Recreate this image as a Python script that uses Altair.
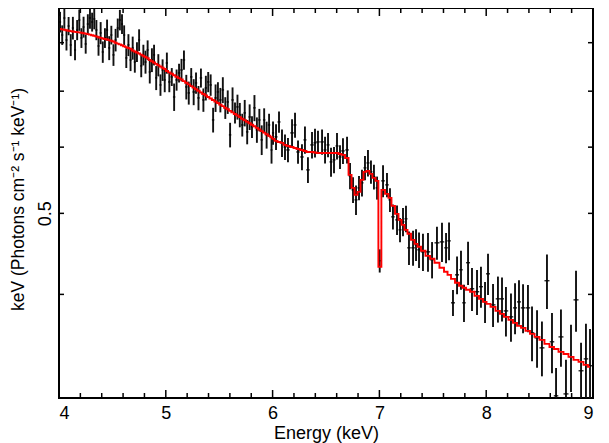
import altair as alt
import pandas as pd

# ---- data ----
# 4-5 keV
E_A = [4.01, 4.03, 4.05, 4.07, 4.09, 4.11, 4.13, 4.15, 4.17, 4.19,
       4.21, 4.23, 4.25, 4.27, 4.29, 4.31, 4.33, 4.35, 4.37, 4.39,
       4.41, 4.43, 4.45, 4.47, 4.49, 4.51, 4.53, 4.55, 4.57, 4.59,
       4.61, 4.63, 4.65, 4.67, 4.69, 4.71, 4.73, 4.75, 4.77, 4.79,
       4.81, 4.83, 4.85, 4.87, 4.89, 4.91, 4.93, 4.95, 4.97, 4.99]
F_A = [0.8469, 0.8171, 0.8563, 0.8060, 0.8376, 0.7950, 0.8330, 0.7841, 0.8285, 0.8516,
       0.8105, 0.8353, 0.7972, 0.8422, 0.8563, 0.8469, 0.8540, 0.8285, 0.7928, 0.8217,
       0.7798, 0.8105, 0.8285, 0.7885, 0.8171, 0.7735, 0.8060, 0.8330, 0.8516, 0.8422,
       0.8171, 0.7671, 0.7950, 0.7628, 0.7885, 0.7586, 0.7798, 0.8060, 0.7504, 0.7735,
       0.7586, 0.7841, 0.7380, 0.7628, 0.7735, 0.7261, 0.7521, 0.7121, 0.7421, 0.7220]
M_A = [0.8308, 0.8299, 0.8290, 0.8278, 0.8269, 0.8260, 0.8250, 0.8243, 0.8236, 0.8230,
       0.8221, 0.8212, 0.8203, 0.8191, 0.8180, 0.8166, 0.8155, 0.8141, 0.8121, 0.8107,
       0.8094, 0.8082, 0.8069, 0.8056, 0.8042, 0.8025, 0.7999, 0.7979, 0.7962, 0.7943,
       0.7923, 0.7904, 0.7885, 0.7866, 0.7830, 0.7809, 0.7787, 0.7766, 0.7742, 0.7717,
       0.7692, 0.7666, 0.7628, 0.7601, 0.7574, 0.7547, 0.7520, 0.7493, 0.7466, 0.7440]
S_A = [0.024, 0.022, 0.025, 0.023, 0.021, 0.024, 0.026, 0.022, 0.023, 0.025,
       0.022, 0.024, 0.021, 0.023, 0.025, 0.022, 0.024, 0.023, 0.021, 0.025,
       0.023, 0.022, 0.024, 0.026, 0.021, 0.023, 0.025, 0.022, 0.024, 0.023,
       0.022, 0.021, 0.024, 0.023, 0.025, 0.022, 0.021, 0.024, 0.023, 0.022,
       0.024, 0.021, 0.023, 0.025, 0.022, 0.024, 0.023, 0.021, 0.022, 0.024]

# 5-6 keV
E_B = [5.010, 5.033, 5.056, 5.078, 5.101, 5.124, 5.147, 5.170, 5.192, 5.215,
       5.238, 5.261, 5.283, 5.306, 5.329, 5.352, 5.375, 5.397, 5.420, 5.443,
       5.466, 5.488, 5.511, 5.534, 5.557, 5.580, 5.602, 5.625, 5.648, 5.671,
       5.693, 5.716, 5.739, 5.762, 5.785, 5.807, 5.830, 5.853, 5.876, 5.898,
       5.921, 5.944, 5.967, 5.990]
F_B = [0.7565, 0.7180, 0.7280, 0.6889, 0.7220, 0.7360, 0.7421, 0.7628, 0.7082, 0.6966,
       0.7280, 0.6985, 0.7160, 0.6871, 0.7260, 0.6833, 0.7063, 0.7180, 0.7121, 0.6467,
       0.6871, 0.6985, 0.6833, 0.7024, 0.6685, 0.6795, 0.6206, 0.6833, 0.6593, 0.6703,
       0.6557, 0.6378, 0.6593, 0.6257, 0.6520, 0.6345, 0.6685, 0.6292, 0.6467, 0.6121,
       0.6467, 0.6206, 0.6378, 0.5954]
M_B = [0.7401, 0.7372, 0.7343, 0.7315, 0.7284, 0.7256, 0.7228, 0.7196, 0.7164, 0.7132,
       0.7099, 0.7068, 0.7038, 0.7007, 0.6976, 0.6947, 0.6918, 0.6889, 0.6861, 0.6831,
       0.6803, 0.6775, 0.6746, 0.6718, 0.6689, 0.6659, 0.6630, 0.6603, 0.6574, 0.6547,
       0.6518, 0.6489, 0.6462, 0.6434, 0.6408, 0.6381, 0.6355, 0.6327, 0.6299, 0.6271,
       0.6245, 0.6218, 0.6192, 0.6165]
S_B = [0.022, 0.020, 0.018, 0.026, 0.021, 0.019, 0.023, 0.020, 0.024, 0.022,
       0.018, 0.025, 0.021, 0.023, 0.019, 0.022, 0.024, 0.020, 0.021, 0.022,
       0.026, 0.019, 0.023, 0.025, 0.020, 0.022, 0.021, 0.024, 0.019, 0.023,
       0.022, 0.020, 0.024, 0.021, 0.023, 0.019, 0.024, 0.022, 0.020, 0.025,
       0.021, 0.023, 0.020, 0.022]

# 6-7 keV (incl. narrow line bin at 7.0)
E_C = [6.004, 6.032, 6.060, 6.088, 6.116, 6.144, 6.182, 6.210, 6.238, 6.275,
       6.303, 6.331, 6.369, 6.397, 6.425, 6.463, 6.491, 6.519, 6.547, 6.575,
       6.603, 6.631, 6.659, 6.697, 6.725, 6.753, 6.781, 6.809, 6.837, 6.865,
       6.893, 6.921, 6.949, 6.978, 7.003]
F_C = [0.6240, 0.6172, 0.6431, 0.6071, 0.6003, 0.5954, 0.6240, 0.6378, 0.5921, 0.5840,
       0.6121, 0.5636, 0.6037, 0.6071, 0.6087, 0.6087, 0.5954, 0.6037, 0.5761, 0.5793,
       0.6020, 0.5840, 0.5938, 0.5954, 0.5544, 0.5334, 0.5189, 0.5363, 0.5438, 0.5667,
       0.5745, 0.5605, 0.5528, 0.5363, 0.4388]
M_C = [0.6138, 0.6104, 0.6087, 0.6071, 0.6037, 0.6020, 0.6003, 0.5987, 0.5970, 0.5954,
       0.5938, 0.5921, 0.5921, 0.5913, 0.5905, 0.5905, 0.5905, 0.5905, 0.5905, 0.5905,
       0.5905, 0.5889, 0.5873, 0.5824, 0.5559, 0.5363, 0.5261, 0.5305, 0.5483, 0.5605,
       0.5620, 0.5574, 0.5513, 0.5468, 0.4316]
S_C = [0.020, 0.022, 0.019, 0.023, 0.021, 0.020, 0.024, 0.022, 0.019, 0.021,
       0.023, 0.020, 0.022, 0.024, 0.019, 0.021, 0.022, 0.020, 0.023, 0.021,
       0.022, 0.019, 0.021, 0.022, 0.020, 0.019, 0.021, 0.018, 0.020, 0.019,
       0.021, 0.018, 0.019, 0.017, 0.014]

# 7-9 keV
E_D = [7.034, 7.071, 7.099, 7.127, 7.165, 7.193, 7.221, 7.249, 7.277, 7.315,
       7.343, 7.371, 7.408, 7.455, 7.493, 7.539, 7.586, 7.624, 7.652, 7.689,
       7.727, 7.764, 7.792, 7.830, 7.867, 7.914, 7.951, 7.989, 8.017, 8.064,
       8.110, 8.148, 8.185, 8.232, 8.270, 8.307, 8.345, 8.391, 8.429, 8.476,
       8.522, 8.569, 8.616, 8.654, 8.700, 8.747, 8.794, 8.841, 8.888, 8.934,
       8.972]
F_D = [0.5468, 0.5408, 0.5189, 0.4952, 0.4911, 0.4778, 0.4884, 0.4925, 0.4547, 0.4547,
       0.4585, 0.4522, 0.4497, 0.4497, 0.4400, 0.4610, 0.4622, 0.4547, 0.4635, 0.3908,
       0.4221, 0.4280, 0.3908, 0.4364, 0.4062, 0.4029, 0.4085, 0.3918, 0.4233, 0.3886,
       0.3951, 0.3951, 0.3822, 0.3760, 0.3854, 0.3918, 0.3854, 0.3854, 0.3598, 0.3548,
       0.3452, 0.4153, 0.3510, 0.3025, 0.3558, 0.3041, 0.3368, 0.3940, 0.3241, 0.3349,
       0.3286]
M_D = [0.5334, 0.5276, 0.5218, 0.5104, 0.4993, 0.4911, 0.4844, 0.4778, 0.4726, 0.4648,
       0.4597, 0.4560, 0.4510, 0.4448, 0.4412, 0.4364, 0.4304, 0.4257, 0.4221, 0.4175,
       0.4130, 0.4096, 0.4073, 0.4051, 0.4029, 0.3984, 0.3951, 0.3918, 0.3897, 0.3865,
       0.3822, 0.3791, 0.3760, 0.3729, 0.3698, 0.3668, 0.3648, 0.3618, 0.3588, 0.3558,
       0.3529, 0.3490, 0.3461, 0.3442, 0.3414, 0.3395, 0.3368, 0.3340, 0.3322, 0.3294,
       0.3277]
S_D = [0.024, 0.018, 0.017, 0.017, 0.020, 0.016, 0.019, 0.018, 0.021, 0.022,
       0.020, 0.022, 0.023, 0.024, 0.022, 0.021, 0.025, 0.019, 0.024, 0.014,
       0.022, 0.023, 0.020, 0.026, 0.024, 0.025, 0.023, 0.022, 0.024, 0.023,
       0.025, 0.024, 0.026, 0.025, 0.027, 0.024, 0.026, 0.025, 0.027, 0.028,
       0.026, 0.031, 0.029, 0.024, 0.028, 0.030, 0.031, 0.033, 0.026, 0.034,
       0.035]

# axis ticks
X_MAJOR = [4, 5, 6, 7, 8, 9]
X_MINOR = [4.2, 4.4, 4.6, 4.8, 5.2, 5.4, 5.6, 5.8, 6.2, 6.4, 6.6, 6.8,
           7.2, 7.4, 7.6, 7.8, 8.2, 8.4, 8.6, 8.8]
Y_TICKS = [0.4, 0.5, 0.6, 0.7, 0.8]
Y_LABELS = [0.5]

# ---- build table ----
energy = E_A + E_B + E_C + E_D
flux = F_A + F_B + F_C + F_D
model = M_A + M_B + M_C + M_D
sigma = S_A + S_B + S_C + S_D
n = len(energy)
half = []
for i in range(n):
    if i == 0:
        d = energy[1] - energy[0]
    elif i == n - 1:
        d = energy[-1] - energy[-2]
    else:
        d = (energy[i + 1] - energy[i - 1]) / 2
    half.append(d / 2)

df = pd.DataFrame({
    "E": energy,
    "F": flux,
    "M": model,
    "lo": [f - s for f, s in zip(flux, sigma)],
    "hi": [f + s for f, s in zip(flux, sigma)],
    "x0": [e - h for e, h in zip(energy, half)],
    "x1": [e + h for e, h in zip(energy, half)],
})

W, H = 534, 390
FONT = "Liberation Sans"

xs = alt.Scale(domain=[4, 9], nice=False, zero=False)
ys = alt.Scale(type="log", domain=[0.3007, 0.8802], nice=False)

xax = alt.Axis(values=X_MAJOR, format="d", ticks=False, tickSize=0, domain=False,
               grid=False, labelFont=FONT, labelFontSize=18, labelColor="black",
               labelPadding=6, title="Energy (keV)", titleFont=FONT, titleFontSize=18,
               titleFontWeight="normal", titleColor="black", titleBaseline="alphabetic",
               titleY=40)
yax = alt.Axis(values=Y_LABELS, format=".1f", ticks=False, tickSize=0, domain=False,
               grid=False, labelFont=FONT, labelFontSize=18, labelColor="black",
               labelAngle=270, labelAlign="center", labelBaseline="alphabetic",
               labelPadding=9,
               title="keV (Photons cm\u207b\u00b2 s\u207b\u00b9 keV\u207b\u00b9)",
               titleFont=FONT, titleFontSize=17.5, titleFontWeight="normal",
               titleColor="black", titleAngle=270, titleAlign="center",
               titleBaseline="middle", titleX=-41, titleY=191)

base = alt.Chart(df)

vbars = base.mark_rule(color="#111111", strokeWidth=1.9, clip=True).encode(
    x=alt.X("E:Q", scale=xs, axis=xax),
    y=alt.Y("lo:Q", scale=ys, axis=yax),
    y2="hi:Q",
)
hbars = base.mark_rule(color="black", strokeWidth=1.2, clip=True).encode(
    x=alt.X("x0:Q", scale=xs, axis=xax),
    x2="x1:Q",
    y=alt.Y("F:Q", scale=ys, axis=yax),
)
mline = base.mark_line(color="#ff0000", strokeWidth=1.9, interpolate="step",
                       clip=True).encode(
    x=alt.X("E:Q", scale=xs, axis=xax),
    y=alt.Y("M:Q", scale=ys, axis=yax),
)

xmaj = pd.DataFrame({"E": X_MAJOR})
xmin = pd.DataFrame({"E": X_MINOR})
ytk = pd.DataFrame({"F": Y_TICKS})


def xticks(data, length, top):
    if top:
        yy, yy2 = 0, length
    else:
        yy, yy2 = H, H - length
    return alt.Chart(data).mark_rule(color="black", strokeWidth=1.5).encode(
        x=alt.X("E:Q", scale=xs, axis=xax),
        y=alt.value(yy), y2=alt.value(yy2))


def yticks(length, right):
    if right:
        xx, xx2 = W, W - length
    else:
        xx, xx2 = 0, length
    return alt.Chart(ytk).mark_rule(color="black", strokeWidth=1.5).encode(
        y=alt.Y("F:Q", scale=ys, axis=yax),
        x=alt.value(xx), x2=alt.value(xx2))


chart = alt.layer(
    vbars, hbars, mline,
    xticks(xmaj, 8, False), xticks(xmaj, 8, True),
    xticks(xmin, 5, False), xticks(xmin, 5, True),
    yticks(5, False), yticks(5, True),
).properties(
    width=W, height=H,
    autosize=alt.AutoSizeParams(type="none"),
    padding={"left": 51, "top": 0, "right": 8, "bottom": 46},
    background="white",
).configure_view(stroke="black", strokeWidth=2)

chart.save("out.html", embed_options={"renderer": "svg", "actions": False})
